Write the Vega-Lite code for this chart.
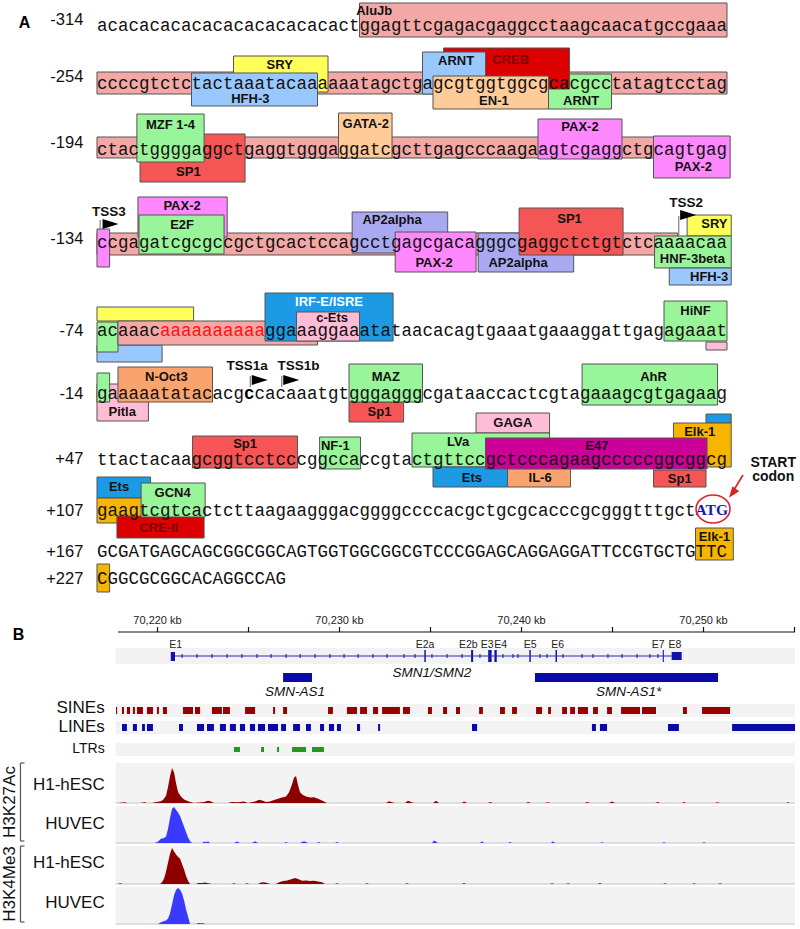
{
  "$schema": "https://vega.github.io/schema/vega-lite/v6.json",
  "width": 800,
  "height": 929,
  "padding": 0,
  "autosize": {"type": "none"},
  "background": "white",
  "config": {"view": {"stroke": null}, "axis": {"disable": true}, "legend": {"disable": true}},
  "datasets": {
    "boxes": [
      {"tf": "AluJb", "c1": 25, "c2": 60, "y1": 3, "y2": 37, "label": "AluJb", "lc": 26.4, "ly": 11},
      {"tf": "AluJb", "c1": 0, "c2": 60, "y1": 72, "y2": 94},
      {"tf": "SRY", "c1": 13, "c2": 22, "y1": 56, "y2": 92, "label": "SRY", "lc": 17.4, "ly": 65},
      {"tf": "HFH-3", "c1": 9, "c2": 21, "y1": 73, "y2": 106, "label": "HFH-3", "lc": 14.6, "ly": 99},
      {"tf": "ARNT b", "c1": 43, "c2": 49, "y1": 74, "y2": 109, "label": "ARNT", "lc": 46.1, "ly": 101},
      {"tf": "CREB", "c1": 33, "c2": 45, "y1": 48, "y2": 89, "label": "CREB", "lc": 39.4, "ly": 60},
      {"tf": "ARNT", "c1": 31, "c2": 37, "y1": 52, "y2": 94, "label": "ARNT", "lc": 34.2, "ly": 61},
      {"tf": "EN-1", "c1": 32, "c2": 43, "y1": 76, "y2": 109, "label": "EN-1", "lc": 37.8, "ly": 101},
      {"tf": "AluJb", "c1": 0, "c2": 60, "y1": 137, "y2": 158},
      {"tf": "SP1", "c1": 4.1, "c2": 14.1, "y1": 134, "y2": 182, "label": "SP1", "lc": 8.7, "ly": 172},
      {"tf": "MZF 1-4", "c1": 3.8, "c2": 10.2, "y1": 114, "y2": 162, "label": "MZF 1-4", "lc": 7, "ly": 125},
      {"tf": "GATA-2", "c1": 23, "c2": 28.1, "y1": 113, "y2": 158, "label": "GATA-2", "lc": 25.6, "ly": 124},
      {"tf": "PAX-2", "c1": 42, "c2": 50, "y1": 119, "y2": 159, "label": "PAX-2", "lc": 46, "ly": 127},
      {"tf": "PAX-2", "c1": 53, "c2": 60.3, "y1": 136, "y2": 178, "label": "PAX-2", "lc": 56.8, "ly": 167},
      {"tf": "AluJb", "c1": 0, "c2": 55.3, "y1": 233, "y2": 255},
      {"tf": "PAX-2", "c1": 0, "c2": 1.2, "y1": 229, "y2": 267},
      {"tf": "PAX-2", "c1": 3.9, "c2": 12.4, "y1": 197, "y2": 237, "label": "PAX-2", "lc": 8.1, "ly": 206},
      {"tf": "E2F", "c1": 4, "c2": 12.1, "y1": 215, "y2": 254, "label": "E2F", "lc": 8.1, "ly": 225},
      {"tf": "AP2alpha", "c1": 24.3, "c2": 33.4, "y1": 212, "y2": 253, "label": "AP2alpha", "lc": 28.1, "ly": 220},
      {"tf": "PAX-2", "c1": 28.4, "c2": 36.1, "y1": 232, "y2": 272, "label": "PAX-2", "lc": 32.1, "ly": 263},
      {"tf": "AP2alpha", "c1": 36.3, "c2": 45.4, "y1": 233, "y2": 272, "label": "AP2alpha", "lc": 40.1, "ly": 263},
      {"tf": "SP1", "c1": 40.2, "c2": 50.1, "y1": 208, "y2": 255, "label": "SP1", "lc": 45, "ly": 219},
      {"tf": "SRY", "c1": 56.2, "c2": 60.4, "y1": 215, "y2": 236, "label": "SRY", "lc": 58.8, "ly": 224},
      {"tf": "HNF-3beta", "c1": 53.1, "c2": 60.4, "y1": 236, "y2": 268, "label": "HNF-3beta", "lc": 56.7, "ly": 259},
      {"tf": "HFH-3", "c1": 54.5, "c2": 60.4, "y1": 268, "y2": 285, "label": "HFH-3", "lc": 58.3, "ly": 277},
      {"tf": "SRY", "c1": 0, "c2": 9.2, "y1": 307, "y2": 321},
      {"tf": "HFH-3", "c1": 0, "c2": 6.2, "y1": 345, "y2": 362},
      {"tf": "HNF-3beta", "c1": 0, "c2": 2, "y1": 322, "y2": 352},
      {"tf": "AluJb", "c1": 2, "c2": 21, "y1": 321, "y2": 345},
      {"tf": "IRF-E/ISRE", "c1": 16, "c2": 28.2, "y1": 293, "y2": 341, "label": "IRF-E/ISRE", "lc": 22.1, "ly": 302},
      {"tf": "c-Ets", "c1": 19, "c2": 25, "y1": 312, "y2": 341, "label": "c-Ets", "lc": 22.4, "ly": 318},
      {"tf": "HiNF", "c1": 54, "c2": 60, "y1": 301, "y2": 341, "label": "HiNF", "lc": 57, "ly": 311},
      {"tf": "Pitla", "c1": 58, "c2": 60, "y1": 342, "y2": 350},
      {"tf": "Pitla", "c1": 0, "c2": 4.9, "y1": 384, "y2": 421, "label": "Pitla", "lc": 2.4, "ly": 412},
      {"tf": "HiNF", "c1": 0, "c2": 1.2, "y1": 373, "y2": 402},
      {"tf": "N-Oct3", "c1": 2, "c2": 11, "y1": 367, "y2": 402, "label": "N-Oct3", "lc": 6.6, "ly": 377},
      {"tf": "Sp1", "c1": 24, "c2": 29.2, "y1": 402, "y2": 422, "label": "Sp1", "lc": 26.9, "ly": 412},
      {"tf": "MAZ", "c1": 24, "c2": 31, "y1": 364, "y2": 402, "label": "MAZ", "lc": 27.5, "ly": 377},
      {"tf": "AhR", "c1": 46.2, "c2": 59.1, "y1": 364, "y2": 405, "label": "AhR", "lc": 53, "ly": 377},
      {"tf": "GAGA", "c1": 36.1, "c2": 43.1, "y1": 413, "y2": 433, "label": "GAGA", "lc": 39.6, "ly": 423},
      {"tf": "Sp1", "c1": 9.1, "c2": 19.1, "y1": 436, "y2": 468, "label": "Sp1", "lc": 14.1, "ly": 444},
      {"tf": "NF-1", "c1": 21.2, "c2": 25.1, "y1": 437, "y2": 469, "label": "NF-1", "lc": 22.7, "ly": 446},
      {"tf": "LVa", "c1": 30, "c2": 43.1, "y1": 433, "y2": 467, "label": "LVa", "lc": 34.4, "ly": 442},
      {"tf": "Ets", "c1": 32, "c2": 39.1, "y1": 467, "y2": 487, "label": "Ets", "lc": 35.7, "ly": 478},
      {"tf": "IL-6", "c1": 39.1, "c2": 45.1, "y1": 467, "y2": 487, "label": "IL-6", "lc": 42.2, "ly": 478},
      {"tf": "Ets", "c1": 58, "c2": 60.4, "y1": 414, "y2": 423},
      {"tf": "Elk-1", "c1": 54.9, "c2": 60.4, "y1": 423, "y2": 467, "label": "Elk-1", "lc": 57.4, "ly": 432},
      {"tf": "Sp1", "c1": 53, "c2": 58, "y1": 470, "y2": 487, "label": "Sp1", "lc": 55.5, "ly": 479},
      {"tf": "E47", "c1": 37, "c2": 58.1, "y1": 438, "y2": 469, "label": "E47", "lc": 47.6, "ly": 446},
      {"tf": "Ets", "c1": 0, "c2": 5.1, "y1": 477, "y2": 498, "label": "Ets", "lc": 2.1, "ly": 487},
      {"tf": "Elk-1", "c1": 0, "c2": 5.1, "y1": 498, "y2": 523},
      {"tf": "CRE-II", "c1": 1.9, "c2": 10.2, "y1": 516, "y2": 538, "label": "CRE-II", "lc": 5.9, "ly": 528},
      {"tf": "GCN4", "c1": 4.2, "c2": 10.3, "y1": 483, "y2": 517, "label": "GCN4", "lc": 7.2, "ly": 493},
      {"tf": "Elk-1", "c1": 57, "c2": 60.6, "y1": 528, "y2": 560, "label": "Elk-1", "lc": 58.8, "ly": 537},
      {"tf": "Elk-1", "c1": 0, "c2": 1.2, "y1": 564, "y2": 592}
    ],
    "seq": [
      {"y": 26, "c": 0, "s": "acacacacacacacacacacacactggagttcgagacgaggcctaagcaacatgccgaaa", "k": "plain"},
      {"y": 84, "c": 0, "s": "ccccgtctctactaaatacaaaaaatagctgagcgtggtggcgcacgcctatagtcctag", "k": "plain"},
      {"y": 150, "c": 0, "s": "ctactggggaggctgaggtgggaggatcgcttgagcccaagaagtcgaggctgcagtgag", "k": "plain"},
      {"y": 243, "c": 0, "s": "ccgagatcgcgccgctgcactccagcctgagcgacagggcgaggctctgtctcaaaacaa", "k": "plain"},
      {"y": 331, "c": 0, "s": "acaaac", "k": "plain"},
      {"y": 331, "c": 6, "s": "aaaaaaaaaa", "k": "red"},
      {"y": 331, "c": 16, "s": "ggaaaggaaatataacacagtgaaatgaaaggattgagagaaat", "k": "plain"},
      {"y": 394, "c": 0, "s": "gaaaaatatacacg", "k": "plain"},
      {"y": 394, "c": 14, "s": "c", "k": "bold"},
      {"y": 394, "c": 15, "s": "cacaaatgtgggagggcgataaccactcgtagaaagcgtgagaag", "k": "plain"},
      {"y": 460, "c": 0, "s": "ttactacaagcggtcctcccggccaccgtactgttccgctcccagaagcccccggcggcg", "k": "plain"},
      {"y": 511, "c": 0, "s": "gaagtcgtcactcttaagaagggacggggccccacgctgcgcacccgcgggtttgct", "k": "plain"},
      {"y": 510, "c": 57, "s": "ATG", "k": "atg"},
      {"y": 552, "c": 0, "s": "GCGATGAGCAGCGGCGGCAGTGGTGGCGGCGTCCCGGAGCAGGAGGATTCCGTGCTGTTC", "k": "plain"},
      {"y": 579, "c": 0, "s": "CGGCGCGGCACAGGCCAG", "k": "plain"}
    ],
    "rows": [
      {"row": "-314", "c": -1.3, "ly": 20},
      {"row": "-254", "c": -1.3, "ly": 77},
      {"row": "-194", "c": -1.3, "ly": 143},
      {"row": "-134", "c": -1.3, "ly": 239},
      {"row": "-74", "c": -1.3, "ly": 331},
      {"row": "-14", "c": -1.3, "ly": 394},
      {"row": "+47", "c": -1.3, "ly": 459},
      {"row": "+107", "c": -1.3, "ly": 511},
      {"row": "+167", "c": -1.3, "ly": 552},
      {"row": "+227", "c": -1.3, "ly": 579}
    ],
    "tss": [
      {"name": "TSS3", "lc": 1.14, "ly": 212, "rc": 0.3, "ry1": 220, "ry2": 229, "tc": 1.29, "ty": 224},
      {"name": "TSS2", "lc": 56.1, "ly": 203, "rc": 55.4, "ry1": 216, "ry2": 236, "tc": 56.3, "ty": 215},
      {"name": "TSS1a", "lc": 14.3, "ly": 366, "rc": 14.6, "ry1": 376, "ry2": 387, "tc": 15.5, "ty": 380},
      {"name": "TSS1b", "lc": 19.2, "ly": 366, "rc": 17.6, "ry1": 376, "ry2": 387, "tc": 18.5, "ty": 380}
    ],
    "notes": [
      {"t": "A", "c": -6.9, "y": 23, "k": "panel"},
      {"t": "START", "c": 64.4, "y": 463, "k": "note"},
      {"t": "codon", "c": 64.4, "y": 477, "k": "note"}
    ],
    "brules": [
      {"k": "axis", "x1": 70217.83, "x2": 70255.03, "y1": 632, "y2": 632},
      {"k": "axis", "x1": 70220, "x2": 70220, "y1": 627, "y2": 632},
      {"k": "axis", "x1": 70225, "x2": 70225, "y1": 627, "y2": 632},
      {"k": "axis", "x1": 70230, "x2": 70230, "y1": 627, "y2": 632},
      {"k": "axis", "x1": 70235, "x2": 70235, "y1": 627, "y2": 632},
      {"k": "axis", "x1": 70240, "x2": 70240, "y1": 627, "y2": 632},
      {"k": "axis", "x1": 70245, "x2": 70245, "y1": 627, "y2": 632},
      {"k": "axis", "x1": 70250, "x2": 70250, "y1": 627, "y2": 632},
      {"k": "axis", "x1": 70255, "x2": 70255, "y1": 627, "y2": 632},
      {"k": "bracket", "x1": 70212.47, "x2": 70212.47, "y1": 763, "y2": 841},
      {"k": "bracket", "x1": 70212.47, "x2": 70212.69, "y1": 763, "y2": 763},
      {"k": "bracket", "x1": 70212.47, "x2": 70212.69, "y1": 841, "y2": 841},
      {"k": "bracket", "x1": 70212.47, "x2": 70212.47, "y1": 846, "y2": 922},
      {"k": "bracket", "x1": 70212.47, "x2": 70212.69, "y1": 846, "y2": 846},
      {"k": "bracket", "x1": 70212.47, "x2": 70212.69, "y1": 922, "y2": 922},
      {"k": "base", "x1": 70217.7, "x2": 70255.03, "y1": 803, "y2": 803},
      {"k": "base", "x1": 70217.7, "x2": 70255.03, "y1": 843, "y2": 843},
      {"k": "base", "x1": 70217.7, "x2": 70255.03, "y1": 884, "y2": 884},
      {"k": "base", "x1": 70217.7, "x2": 70255.03, "y1": 924, "y2": 924},
      {"k": "gene", "x1": 70220.96, "x2": 70248.25, "y1": 656, "y2": 656},
      {"k": "gene", "x1": 70221.35, "x2": 70221.35, "y1": 654, "y2": 658},
      {"k": "gene", "x1": 70222.17, "x2": 70222.17, "y1": 654, "y2": 658},
      {"k": "gene", "x1": 70222.99, "x2": 70222.99, "y1": 654, "y2": 658},
      {"k": "gene", "x1": 70223.82, "x2": 70223.82, "y1": 654, "y2": 658},
      {"k": "gene", "x1": 70224.64, "x2": 70224.64, "y1": 654, "y2": 658},
      {"k": "gene", "x1": 70225.47, "x2": 70225.47, "y1": 654, "y2": 658},
      {"k": "gene", "x1": 70226.24, "x2": 70226.24, "y1": 654, "y2": 658},
      {"k": "gene", "x1": 70227.06, "x2": 70227.06, "y1": 654, "y2": 658},
      {"k": "gene", "x1": 70227.84, "x2": 70227.84, "y1": 654, "y2": 658},
      {"k": "gene", "x1": 70228.65, "x2": 70228.65, "y1": 654, "y2": 658},
      {"k": "gene", "x1": 70229.48, "x2": 70229.48, "y1": 654, "y2": 658},
      {"k": "gene", "x1": 70230.25, "x2": 70230.25, "y1": 654, "y2": 658},
      {"k": "gene", "x1": 70231.02, "x2": 70231.02, "y1": 654, "y2": 658},
      {"k": "gene", "x1": 70231.84, "x2": 70231.84, "y1": 654, "y2": 658},
      {"k": "gene", "x1": 70232.61, "x2": 70232.61, "y1": 654, "y2": 658},
      {"k": "gene", "x1": 70233.54, "x2": 70233.54, "y1": 654, "y2": 658},
      {"k": "gene", "x1": 70234.15, "x2": 70234.15, "y1": 654, "y2": 658},
      {"k": "gene", "x1": 70235.08, "x2": 70235.08, "y1": 654, "y2": 658},
      {"k": "gene", "x1": 70235.91, "x2": 70235.91, "y1": 654, "y2": 658},
      {"k": "gene", "x1": 70236.73, "x2": 70236.73, "y1": 654, "y2": 658},
      {"k": "gene", "x1": 70237.72, "x2": 70237.72, "y1": 654, "y2": 658},
      {"k": "gene", "x1": 70238.98, "x2": 70238.98, "y1": 654, "y2": 658},
      {"k": "gene", "x1": 70239.53, "x2": 70239.53, "y1": 654, "y2": 658},
      {"k": "gene", "x1": 70239.81, "x2": 70239.81, "y1": 654, "y2": 658},
      {"k": "gene", "x1": 70241.02, "x2": 70241.02, "y1": 654, "y2": 658},
      {"k": "gene", "x1": 70241.40, "x2": 70241.40, "y1": 654, "y2": 658},
      {"k": "gene", "x1": 70242.28, "x2": 70242.28, "y1": 654, "y2": 658},
      {"k": "gene", "x1": 70243.32, "x2": 70243.32, "y1": 654, "y2": 658},
      {"k": "gene", "x1": 70243.93, "x2": 70243.93, "y1": 654, "y2": 658},
      {"k": "gene", "x1": 70244.75, "x2": 70244.75, "y1": 654, "y2": 658},
      {"k": "gene", "x1": 70245.52, "x2": 70245.52, "y1": 654, "y2": 658},
      {"k": "gene", "x1": 70246.35, "x2": 70246.35, "y1": 654, "y2": 658},
      {"k": "gene", "x1": 70247.06, "x2": 70247.06, "y1": 654, "y2": 658},
      {"k": "gene", "x1": 70247.50, "x2": 70247.50, "y1": 654, "y2": 658}
    ],
    "brects": [
      {"k": "band", "x1": 70217.7, "x2": 70255.03, "y1": 648, "y2": 664},
      {"k": "band", "x1": 70217.7, "x2": 70255.03, "y1": 704, "y2": 717},
      {"k": "band", "x1": 70217.7, "x2": 70255.03, "y1": 721, "y2": 734},
      {"k": "band", "x1": 70217.7, "x2": 70255.03, "y1": 743, "y2": 756},
      {"k": "band", "x1": 70217.7, "x2": 70255.03, "y1": 763, "y2": 803},
      {"k": "band", "x1": 70217.7, "x2": 70255.03, "y1": 806, "y2": 843},
      {"k": "band", "x1": 70217.7, "x2": 70255.03, "y1": 846, "y2": 884},
      {"k": "band", "x1": 70217.7, "x2": 70255.03, "y1": 887, "y2": 924},
      {"k": "exon", "x1": 70220.73, "x2": 70220.96, "y1": 652, "y2": 661},
      {"k": "exon", "x1": 70234.66, "x2": 70234.74, "y1": 650, "y2": 662},
      {"k": "exon", "x1": 70237.23, "x2": 70237.34, "y1": 650, "y2": 662},
      {"k": "exon", "x1": 70238.17, "x2": 70238.36, "y1": 650, "y2": 662},
      {"k": "exon", "x1": 70238.51, "x2": 70238.64, "y1": 650, "y2": 662},
      {"k": "exon", "x1": 70240.43, "x2": 70240.51, "y1": 650, "y2": 662},
      {"k": "exon", "x1": 70241.87, "x2": 70241.95, "y1": 650, "y2": 662},
      {"k": "exon", "x1": 70247.76, "x2": 70247.82, "y1": 650, "y2": 662},
      {"k": "exon", "x1": 70248.25, "x2": 70248.80, "y1": 652, "y2": 660},
      {"k": "as", "x1": 70226.90, "x2": 70228.49, "y1": 673, "y2": 682},
      {"k": "as", "x1": 70240.74, "x2": 70250.80, "y1": 673, "y2": 682}
    ],
    "tracklayout": [
      {"track": "SINEs", "top": 707, "bottom": 714},
      {"track": "LINEs", "top": 724, "bottom": 731},
      {"track": "LTRs", "top": 747, "bottom": 752}
    ],
    "repeats": [
      {"track": "SINEs", "s": 70217.72, "e": 70217.78}, {"track": "SINEs", "s": 70218.05, "e": 70218.16},
      {"track": "SINEs", "s": 70218.32, "e": 70218.49}, {"track": "SINEs", "s": 70218.65, "e": 70218.76},
      {"track": "SINEs", "s": 70218.87, "e": 70219.20}, {"track": "SINEs", "s": 70219.42, "e": 70219.75},
      {"track": "SINEs", "s": 70219.97, "e": 70220.08}, {"track": "SINEs", "s": 70220.30, "e": 70220.52},
      {"track": "SINEs", "s": 70221.40, "e": 70221.95}, {"track": "SINEs", "s": 70222.06, "e": 70222.34},
      {"track": "SINEs", "s": 70222.99, "e": 70223.54}, {"track": "SINEs", "s": 70223.60, "e": 70223.98},
      {"track": "SINEs", "s": 70224.81, "e": 70225.36}, {"track": "SINEs", "s": 70226.35, "e": 70226.46},
      {"track": "SINEs", "s": 70226.90, "e": 70227.12}, {"track": "SINEs", "s": 70229.37, "e": 70229.64},
      {"track": "SINEs", "s": 70230.41, "e": 70230.96}, {"track": "SINEs", "s": 70231.13, "e": 70231.51},
      {"track": "SINEs", "s": 70231.84, "e": 70232.12}, {"track": "SINEs", "s": 70232.34, "e": 70233.32},
      {"track": "SINEs", "s": 70233.49, "e": 70233.87}, {"track": "SINEs", "s": 70234.86, "e": 70235.08},
      {"track": "SINEs", "s": 70235.69, "e": 70235.91}, {"track": "SINEs", "s": 70236.40, "e": 70236.62},
      {"track": "SINEs", "s": 70237.67, "e": 70237.88}, {"track": "SINEs", "s": 70238.82, "e": 70239.09},
      {"track": "SINEs", "s": 70239.48, "e": 70239.75}, {"track": "SINEs", "s": 70240.80, "e": 70241.13},
      {"track": "SINEs", "s": 70241.46, "e": 70241.62}, {"track": "SINEs", "s": 70242.23, "e": 70242.50},
      {"track": "SINEs", "s": 70242.67, "e": 70242.94}, {"track": "SINEs", "s": 70243.10, "e": 70243.65},
      {"track": "SINEs", "s": 70243.93, "e": 70244.20}, {"track": "SINEs", "s": 70244.70, "e": 70244.97},
      {"track": "SINEs", "s": 70245.47, "e": 70246.51}, {"track": "SINEs", "s": 70246.62, "e": 70247.39},
      {"track": "SINEs", "s": 70248.87, "e": 70249.09}, {"track": "SINEs", "s": 70249.92, "e": 70251.46},
      {"track": "LINEs", "s": 70218.05, "e": 70218.32}, {"track": "LINEs", "s": 70218.65, "e": 70218.87},
      {"track": "LINEs", "s": 70219.15, "e": 70219.31}, {"track": "LINEs", "s": 70219.42, "e": 70219.75},
      {"track": "LINEs", "s": 70221.18, "e": 70221.40}, {"track": "LINEs", "s": 70222.17, "e": 70222.56},
      {"track": "LINEs", "s": 70222.72, "e": 70223.10}, {"track": "LINEs", "s": 70223.43, "e": 70223.76},
      {"track": "LINEs", "s": 70223.98, "e": 70224.31}, {"track": "LINEs", "s": 70224.53, "e": 70224.81},
      {"track": "LINEs", "s": 70225.08, "e": 70225.36}, {"track": "LINEs", "s": 70225.52, "e": 70225.91},
      {"track": "LINEs", "s": 70226.07, "e": 70226.62}, {"track": "LINEs", "s": 70226.79, "e": 70227.06},
      {"track": "LINEs", "s": 70227.45, "e": 70227.83}, {"track": "LINEs", "s": 70228.16, "e": 70228.43},
      {"track": "LINEs", "s": 70228.93, "e": 70229.15}, {"track": "LINEs", "s": 70229.42, "e": 70229.70},
      {"track": "LINEs", "s": 70229.86, "e": 70230.08}, {"track": "LINEs", "s": 70230.96, "e": 70231.13},
      {"track": "LINEs", "s": 70232.12, "e": 70232.23}, {"track": "LINEs", "s": 70237.28, "e": 70237.56},
      {"track": "LINEs", "s": 70243.87, "e": 70244.09}, {"track": "LINEs", "s": 70244.31, "e": 70244.70},
      {"track": "LINEs", "s": 70248.05, "e": 70248.65}, {"track": "LINEs", "s": 70251.57, "e": 70255.03},
      {"track": "LTRs", "s": 70224.20, "e": 70224.53}, {"track": "LTRs", "s": 70225.69, "e": 70225.85},
      {"track": "LTRs", "s": 70226.57, "e": 70226.68}, {"track": "LTRs", "s": 70227.39, "e": 70228.16},
      {"track": "LTRs", "s": 70228.49, "e": 70229.15}
    ],
    "btext": [
      {"k": "tick", "x": 70220, "y": 621, "t": "70,220 kb"},
      {"k": "tick", "x": 70230, "y": 621, "t": "70,230 kb"},
      {"k": "tick", "x": 70240, "y": 621, "t": "70,240 kb"},
      {"k": "tick", "x": 70250, "y": 621, "t": "70,250 kb"},
      {"k": "exon", "x": 70221.0, "y": 645, "t": "E1"},
      {"k": "exon", "x": 70234.70, "y": 645, "t": "E2a"},
      {"k": "exon", "x": 70237.08, "y": 645, "t": "E2b"},
      {"k": "exon", "x": 70238.12, "y": 645, "t": "E3"},
      {"k": "exon", "x": 70238.86, "y": 645, "t": "E4"},
      {"k": "exon", "x": 70240.47, "y": 645, "t": "E5"},
      {"k": "exon", "x": 70241.99, "y": 645, "t": "E6"},
      {"k": "exon", "x": 70247.51, "y": 645, "t": "E7"},
      {"k": "exon", "x": 70248.43, "y": 645, "t": "E8"},
      {"k": "gene", "x": 70227.55, "y": 692, "t": "SMN-AS1"},
      {"k": "gene", "x": 70245.88, "y": 692, "t": "SMN-AS1*"},
      {"k": "gene", "x": 70235.08, "y": 673, "t": "SMN1/SMN2"},
      {"k": "track", "x": 70217.1, "y": 708, "t": "SINEs"},
      {"k": "track", "x": 70217.1, "y": 727, "t": "LINEs"},
      {"k": "track2", "x": 70217.1, "y": 749, "t": "LTRs"},
      {"k": "track", "x": 70217.1, "y": 785, "t": "H1-hESC"},
      {"k": "track", "x": 70217.1, "y": 824, "t": "HUVEC"},
      {"k": "track", "x": 70217.1, "y": 863, "t": "H1-hESC"},
      {"k": "track", "x": 70217.1, "y": 903, "t": "HUVEC"},
      {"k": "group", "x": 70211.90, "y": 802, "t": "H3K27Ac"},
      {"k": "group", "x": 70211.90, "y": 884, "t": "H3K4Me3"},
      {"k": "panel", "x": 70212.36, "y": 635, "t": "B"}
    ],
    "signal": [
      {"t": "a", "x": 70217.83, "v": 0}, {"t": "a", "x": 70218.21, "v": 2}, {"t": "a", "x": 70218.32, "v": 0},
      {"t": "a", "x": 70219.04, "v": 0}, {"t": "a", "x": 70219.31, "v": 2}, {"t": "a", "x": 70219.42, "v": 0},
      {"t": "a", "x": 70219.70, "v": 0}, {"t": "a", "x": 70219.92, "v": 3}, {"t": "a", "x": 70220.14, "v": 4},
      {"t": "a", "x": 70220.30, "v": 8}, {"t": "a", "x": 70220.47, "v": 20}, {"t": "a", "x": 70220.58, "v": 45},
      {"t": "a", "x": 70220.69, "v": 75}, {"t": "a", "x": 70220.80, "v": 97}, {"t": "a", "x": 70220.91, "v": 85},
      {"t": "a", "x": 70221.02, "v": 55}, {"t": "a", "x": 70221.13, "v": 30}, {"t": "a", "x": 70221.29, "v": 18},
      {"t": "a", "x": 70221.46, "v": 10}, {"t": "a", "x": 70221.62, "v": 6}, {"t": "a", "x": 70221.79, "v": 3},
      {"t": "a", "x": 70222.01, "v": 0}, {"t": "a", "x": 70222.56, "v": 3}, {"t": "a", "x": 70222.78, "v": 6},
      {"t": "a", "x": 70222.94, "v": 4}, {"t": "a", "x": 70223.10, "v": 0}, {"t": "a", "x": 70223.87, "v": 0},
      {"t": "a", "x": 70224.09, "v": 3}, {"t": "a", "x": 70224.42, "v": 2}, {"t": "a", "x": 70224.75, "v": 4},
      {"t": "a", "x": 70224.97, "v": 0}, {"t": "a", "x": 70225.36, "v": 4}, {"t": "a", "x": 70225.58, "v": 9},
      {"t": "a", "x": 70225.80, "v": 6}, {"t": "a", "x": 70225.96, "v": 3}, {"t": "a", "x": 70226.18, "v": 4},
      {"t": "a", "x": 70226.40, "v": 8}, {"t": "a", "x": 70226.62, "v": 12}, {"t": "a", "x": 70226.84, "v": 15},
      {"t": "a", "x": 70227.06, "v": 18}, {"t": "a", "x": 70227.23, "v": 30}, {"t": "a", "x": 70227.39, "v": 52},
      {"t": "a", "x": 70227.50, "v": 70}, {"t": "a", "x": 70227.61, "v": 75}, {"t": "a", "x": 70227.72, "v": 50},
      {"t": "a", "x": 70227.83, "v": 30}, {"t": "a", "x": 70227.99, "v": 22}, {"t": "a", "x": 70228.16, "v": 18},
      {"t": "a", "x": 70228.38, "v": 15}, {"t": "a", "x": 70228.60, "v": 16}, {"t": "a", "x": 70228.82, "v": 12},
      {"t": "a", "x": 70228.98, "v": 8}, {"t": "a", "x": 70229.15, "v": 4}, {"t": "a", "x": 70229.31, "v": 0},
      {"t": "a", "x": 70232.56, "v": 0}, {"t": "a", "x": 70232.72, "v": 5}, {"t": "a", "x": 70232.88, "v": 2},
      {"t": "a", "x": 70233.05, "v": 0}, {"t": "a", "x": 70233.60, "v": 0}, {"t": "a", "x": 70233.76, "v": 6},
      {"t": "a", "x": 70233.93, "v": 3}, {"t": "a", "x": 70234.09, "v": 0}, {"t": "a", "x": 70235.14, "v": 0},
      {"t": "a", "x": 70235.30, "v": 6}, {"t": "a", "x": 70235.47, "v": 0}, {"t": "a", "x": 70236.73, "v": 0},
      {"t": "a", "x": 70236.84, "v": 4}, {"t": "a", "x": 70237.01, "v": 0}, {"t": "a", "x": 70238.16, "v": 0},
      {"t": "a", "x": 70238.27, "v": 3}, {"t": "a", "x": 70238.43, "v": 0}, {"t": "a", "x": 70240.25, "v": 0},
      {"t": "a", "x": 70240.36, "v": 3}, {"t": "a", "x": 70240.52, "v": 0}, {"t": "a", "x": 70241.29, "v": 0},
      {"t": "a", "x": 70241.46, "v": 2}, {"t": "a", "x": 70241.57, "v": 0}, {"t": "a", "x": 70243.49, "v": 0},
      {"t": "a", "x": 70243.60, "v": 3}, {"t": "a", "x": 70243.76, "v": 0}, {"t": "a", "x": 70244.81, "v": 0},
      {"t": "a", "x": 70244.97, "v": 4}, {"t": "a", "x": 70245.14, "v": 0}, {"t": "a", "x": 70247.34, "v": 0},
      {"t": "a", "x": 70247.50, "v": 3}, {"t": "a", "x": 70247.61, "v": 0}, {"t": "a", "x": 70248.82, "v": 0},
      {"t": "a", "x": 70248.93, "v": 3}, {"t": "a", "x": 70249.04, "v": 0}, {"t": "a", "x": 70250.63, "v": 0},
      {"t": "a", "x": 70250.74, "v": 2}, {"t": "a", "x": 70250.91, "v": 0}, {"t": "a", "x": 70254.53, "v": 0},
      {"t": "a", "x": 70254.64, "v": 2}, {"t": "a", "x": 70254.75, "v": 0}, {"t": "a", "x": 70255.03, "v": 0},

      {"t": "b", "x": 70217.83, "v": 0}, {"t": "b", "x": 70219.86, "v": 0}, {"t": "b", "x": 70220.03, "v": 4},
      {"t": "b", "x": 70220.19, "v": 12}, {"t": "b", "x": 70220.36, "v": 14}, {"t": "b", "x": 70220.47, "v": 18},
      {"t": "b", "x": 70220.58, "v": 40}, {"t": "b", "x": 70220.69, "v": 70}, {"t": "b", "x": 70220.80, "v": 95},
      {"t": "b", "x": 70220.91, "v": 100}, {"t": "b", "x": 70221.02, "v": 92}, {"t": "b", "x": 70221.13, "v": 85},
      {"t": "b", "x": 70221.24, "v": 75}, {"t": "b", "x": 70221.35, "v": 60}, {"t": "b", "x": 70221.46, "v": 45},
      {"t": "b", "x": 70221.57, "v": 30}, {"t": "b", "x": 70221.68, "v": 15}, {"t": "b", "x": 70221.79, "v": 5},
      {"t": "b", "x": 70221.90, "v": 0}, {"t": "b", "x": 70222.45, "v": 0}, {"t": "b", "x": 70222.56, "v": 4},
      {"t": "b", "x": 70222.67, "v": 2}, {"t": "b", "x": 70222.78, "v": 5}, {"t": "b", "x": 70222.88, "v": 0},
      {"t": "b", "x": 70224.20, "v": 0}, {"t": "b", "x": 70224.37, "v": 4}, {"t": "b", "x": 70224.53, "v": 0},
      {"t": "b", "x": 70225.19, "v": 0}, {"t": "b", "x": 70225.36, "v": 5}, {"t": "b", "x": 70225.52, "v": 0},
      {"t": "b", "x": 70226.95, "v": 0}, {"t": "b", "x": 70227.06, "v": 3}, {"t": "b", "x": 70227.17, "v": 0},
      {"t": "b", "x": 70227.83, "v": 0}, {"t": "b", "x": 70227.94, "v": 3}, {"t": "b", "x": 70228.05, "v": 5},
      {"t": "b", "x": 70228.16, "v": 3}, {"t": "b", "x": 70228.27, "v": 0}, {"t": "b", "x": 70228.76, "v": 0},
      {"t": "b", "x": 70228.87, "v": 3}, {"t": "b", "x": 70228.98, "v": 0}, {"t": "b", "x": 70229.75, "v": 0},
      {"t": "b", "x": 70229.86, "v": 3}, {"t": "b", "x": 70229.97, "v": 0}, {"t": "b", "x": 70235.08, "v": 0},
      {"t": "b", "x": 70235.19, "v": 7}, {"t": "b", "x": 70235.30, "v": 4}, {"t": "b", "x": 70235.41, "v": 0},
      {"t": "b", "x": 70237.72, "v": 0}, {"t": "b", "x": 70237.83, "v": 5}, {"t": "b", "x": 70237.94, "v": 0},
      {"t": "b", "x": 70239.26, "v": 0}, {"t": "b", "x": 70239.37, "v": 3}, {"t": "b", "x": 70239.48, "v": 0},
      {"t": "b", "x": 70241.62, "v": 0}, {"t": "b", "x": 70241.73, "v": 5}, {"t": "b", "x": 70241.84, "v": 0},
      {"t": "b", "x": 70244.31, "v": 0}, {"t": "b", "x": 70244.42, "v": 2}, {"t": "b", "x": 70244.53, "v": 0},
      {"t": "b", "x": 70247.72, "v": 0}, {"t": "b", "x": 70247.83, "v": 2}, {"t": "b", "x": 70247.94, "v": 0},
      {"t": "b", "x": 70249.92, "v": 0}, {"t": "b", "x": 70250.03, "v": 2}, {"t": "b", "x": 70250.14, "v": 0},
      {"t": "b", "x": 70255.03, "v": 0},

      {"t": "c", "x": 70217.83, "v": 0}, {"t": "c", "x": 70217.94, "v": 2}, {"t": "c", "x": 70218.10, "v": 0},
      {"t": "c", "x": 70220.14, "v": 0}, {"t": "c", "x": 70220.25, "v": 5}, {"t": "c", "x": 70220.36, "v": 15},
      {"t": "c", "x": 70220.47, "v": 35}, {"t": "c", "x": 70220.58, "v": 60}, {"t": "c", "x": 70220.69, "v": 85},
      {"t": "c", "x": 70220.80, "v": 100}, {"t": "c", "x": 70220.91, "v": 90}, {"t": "c", "x": 70221.02, "v": 82},
      {"t": "c", "x": 70221.13, "v": 75}, {"t": "c", "x": 70221.24, "v": 70}, {"t": "c", "x": 70221.35, "v": 55},
      {"t": "c", "x": 70221.46, "v": 40}, {"t": "c", "x": 70221.57, "v": 22}, {"t": "c", "x": 70221.68, "v": 8},
      {"t": "c", "x": 70221.79, "v": 0}, {"t": "c", "x": 70222.12, "v": 0}, {"t": "c", "x": 70222.23, "v": 3},
      {"t": "c", "x": 70222.45, "v": 3}, {"t": "c", "x": 70222.61, "v": 4}, {"t": "c", "x": 70222.78, "v": 2},
      {"t": "c", "x": 70222.99, "v": 0}, {"t": "c", "x": 70224.09, "v": 0}, {"t": "c", "x": 70224.20, "v": 2},
      {"t": "c", "x": 70224.31, "v": 0}, {"t": "c", "x": 70224.81, "v": 0}, {"t": "c", "x": 70224.92, "v": 2},
      {"t": "c", "x": 70225.03, "v": 0}, {"t": "c", "x": 70225.52, "v": 0}, {"t": "c", "x": 70225.69, "v": 4},
      {"t": "c", "x": 70225.85, "v": 5}, {"t": "c", "x": 70226.02, "v": 3}, {"t": "c", "x": 70226.18, "v": 0},
      {"t": "c", "x": 70226.51, "v": 0}, {"t": "c", "x": 70226.68, "v": 5}, {"t": "c", "x": 70226.90, "v": 8},
      {"t": "c", "x": 70227.12, "v": 10}, {"t": "c", "x": 70227.34, "v": 13}, {"t": "c", "x": 70227.56, "v": 17},
      {"t": "c", "x": 70227.72, "v": 14}, {"t": "c", "x": 70227.94, "v": 9}, {"t": "c", "x": 70228.16, "v": 10},
      {"t": "c", "x": 70228.38, "v": 8}, {"t": "c", "x": 70228.60, "v": 9}, {"t": "c", "x": 70228.82, "v": 7},
      {"t": "c", "x": 70229.04, "v": 5}, {"t": "c", "x": 70229.20, "v": 0}, {"t": "c", "x": 70229.75, "v": 0},
      {"t": "c", "x": 70229.86, "v": 2}, {"t": "c", "x": 70229.97, "v": 0}, {"t": "c", "x": 70231.40, "v": 0},
      {"t": "c", "x": 70231.51, "v": 2}, {"t": "c", "x": 70231.62, "v": 0}, {"t": "c", "x": 70233.60, "v": 0},
      {"t": "c", "x": 70233.71, "v": 2}, {"t": "c", "x": 70233.82, "v": 0}, {"t": "c", "x": 70236.73, "v": 0},
      {"t": "c", "x": 70236.84, "v": 3}, {"t": "c", "x": 70236.95, "v": 0}, {"t": "c", "x": 70241.57, "v": 0},
      {"t": "c", "x": 70241.68, "v": 2}, {"t": "c", "x": 70241.79, "v": 0}, {"t": "c", "x": 70242.45, "v": 0},
      {"t": "c", "x": 70242.56, "v": 2}, {"t": "c", "x": 70242.67, "v": 0}, {"t": "c", "x": 70244.20, "v": 0},
      {"t": "c", "x": 70244.31, "v": 3}, {"t": "c", "x": 70244.42, "v": 0}, {"t": "c", "x": 70247.78, "v": 0},
      {"t": "c", "x": 70247.88, "v": 2}, {"t": "c", "x": 70247.99, "v": 0}, {"t": "c", "x": 70249.37, "v": 0},
      {"t": "c", "x": 70249.48, "v": 2}, {"t": "c", "x": 70249.59, "v": 0}, {"t": "c", "x": 70250.80, "v": 0},
      {"t": "c", "x": 70250.91, "v": 2}, {"t": "c", "x": 70251.02, "v": 0}, {"t": "c", "x": 70255.03, "v": 0},

      {"t": "d", "x": 70217.83, "v": 0}, {"t": "d", "x": 70220.03, "v": 0}, {"t": "d", "x": 70220.19, "v": 5},
      {"t": "d", "x": 70220.36, "v": 8}, {"t": "d", "x": 70220.47, "v": 10}, {"t": "d", "x": 70220.58, "v": 15},
      {"t": "d", "x": 70220.69, "v": 30}, {"t": "d", "x": 70220.80, "v": 55}, {"t": "d", "x": 70220.91, "v": 80},
      {"t": "d", "x": 70221.02, "v": 95}, {"t": "d", "x": 70221.13, "v": 100}, {"t": "d", "x": 70221.24, "v": 95},
      {"t": "d", "x": 70221.35, "v": 85}, {"t": "d", "x": 70221.46, "v": 65}, {"t": "d", "x": 70221.57, "v": 40},
      {"t": "d", "x": 70221.68, "v": 20}, {"t": "d", "x": 70221.79, "v": 0}, {"t": "d", "x": 70222.12, "v": 0},
      {"t": "d", "x": 70222.23, "v": 3}, {"t": "d", "x": 70222.39, "v": 2}, {"t": "d", "x": 70222.50, "v": 3},
      {"t": "d", "x": 70222.61, "v": 0}, {"t": "d", "x": 70255.03, "v": 0}
    ]
  },
  "layer": [
    {
      "layer": [
        {
          "data": {"name": "boxes"},
          "mark": {"type": "rect", "stroke": "#555555", "strokeWidth": 1},
          "encoding": {
            "x": {"field": "c1", "type": "quantitative", "scale": {"domain": [-9.238, 66.952], "nice": false, "zero": false}},
            "x2": {"field": "c2"},
            "y": {"field": "y1", "type": "quantitative", "scale": {"domain": [0, 929], "reverse": true, "nice": false, "zero": false}},
            "y2": {"field": "y2"},
            "fill": {"field": "tf", "type": "nominal", "legend": null, "scale": {
              "domain": ["AluJb","SRY","HFH-3","ARNT","CREB","EN-1","ARNT b","MZF 1-4","SP1","GATA-2","PAX-2","E2F","AP2alpha","HNF-3beta","IRF-E/ISRE","c-Ets","HiNF","Pitla","N-Oct3","MAZ","Sp1","AhR","NF-1","LVa","GAGA","E47","Ets","IL-6","Elk-1","GCN4","CRE-II"],
              "range": ["#f4a8a6","#ffff5a","#99c8ff","#99c8ff","#dd0000","#ffcb99","#99f599","#99f599","#f55555","#ffcb99","#ff88ff","#99f599","#a9a9f2","#99f599","#1c9ae4","#ffbcd6","#99f599","#ffbcd6","#f9a46e","#99f599","#f55555","#99f599","#99f599","#99f599","#ffbcd6","#cc0099","#1c9ae4","#f9a46e","#f7b500","#99f599","#dd0000"]}}
          }
        },
        {
          "data": {"name": "seq"},
          "transform": [{"filter": "datum.k === 'plain' || datum.k === 'red'"}],
          "mark": {"type": "text", "font": "Liberation Mono", "fontSize": 17.5, "align": "left", "baseline": "middle"},
          "encoding": {
            "x": {"field": "c", "type": "quantitative", "scale": {"domain": [-9.238, 66.952], "nice": false, "zero": false}},
            "y": {"field": "y", "type": "quantitative", "scale": {"domain": [0, 929], "reverse": true, "nice": false, "zero": false}},
            "text": {"field": "s"},
            "color": {"condition": {"test": "datum.k === 'red'", "value": "#ff1010"}, "value": "#111111"}
          }
        },
        {
          "data": {"name": "seq"},
          "transform": [{"filter": "datum.k === 'bold'"}],
          "mark": {"type": "text", "font": "Liberation Mono", "fontSize": 17.5, "fontWeight": "bold", "align": "left", "baseline": "middle", "color": "#000000"},
          "encoding": {
            "x": {"field": "c", "type": "quantitative", "scale": {"domain": [-9.238, 66.952], "nice": false, "zero": false}},
            "y": {"field": "y", "type": "quantitative", "scale": {"domain": [0, 929], "reverse": true, "nice": false, "zero": false}},
            "text": {"field": "s"}
          }
        },
        {
          "data": {"name": "seq"},
          "transform": [{"filter": "datum.k === 'atg'"}],
          "mark": {"type": "text", "font": "Liberation Serif", "fontSize": 15.5, "fontWeight": "bold", "align": "left", "baseline": "middle", "color": "#1a1aa8"},
          "encoding": {
            "x": {"field": "c", "type": "quantitative", "scale": {"domain": [-9.238, 66.952], "nice": false, "zero": false}},
            "y": {"field": "y", "type": "quantitative", "scale": {"domain": [0, 929], "reverse": true, "nice": false, "zero": false}},
            "text": {"field": "s"}
          }
        },
        {
          "data": {"name": "rows"},
          "mark": {"type": "text", "font": "Liberation Sans", "fontSize": 16.5, "align": "right", "baseline": "middle", "color": "#111111"},
          "encoding": {
            "x": {"field": "c", "type": "quantitative", "scale": {"domain": [-9.238, 66.952], "nice": false, "zero": false}},
            "y": {"field": "ly", "type": "quantitative", "scale": {"domain": [0, 929], "reverse": true, "nice": false, "zero": false}},
            "text": {"field": "row"}
          }
        },
        {
          "data": {"name": "boxes"},
          "transform": [{"filter": "datum.label"}],
          "mark": {"type": "text", "font": "Liberation Sans", "fontSize": 13, "fontWeight": "bold", "align": "center", "baseline": "middle"},
          "encoding": {
            "x": {"field": "lc", "type": "quantitative", "scale": {"domain": [-9.238, 66.952], "nice": false, "zero": false}},
            "y": {"field": "ly", "type": "quantitative", "scale": {"domain": [0, 929], "reverse": true, "nice": false, "zero": false}},
            "text": {"field": "label"},
            "color": {"condition": [{"test": "datum.tf === 'IRF-E/ISRE'", "value": "#ffffff"}, {"test": "datum.tf === 'CREB' || datum.tf === 'CRE-II'", "value": "#7a0000"}], "value": "#111111"}
          }
        },
        {
          "data": {"name": "tss"},
          "mark": {"type": "rule", "color": "#888888", "strokeWidth": 1.3},
          "encoding": {
            "x": {"field": "rc", "type": "quantitative", "scale": {"domain": [-9.238, 66.952], "nice": false, "zero": false}},
            "y": {"field": "ry1", "type": "quantitative", "scale": {"domain": [0, 929], "reverse": true, "nice": false, "zero": false}},
            "y2": {"field": "ry2"}
          }
        },
        {
          "data": {"name": "tss"},
          "mark": {"type": "point", "shape": "M-1,-0.62L1,0L-1,0.62Z", "filled": true, "opacity": 1, "size": 256, "color": "#000000"},
          "encoding": {
            "x": {"field": "tc", "type": "quantitative", "scale": {"domain": [-9.238, 66.952], "nice": false, "zero": false}},
            "y": {"field": "ty", "type": "quantitative", "scale": {"domain": [0, 929], "reverse": true, "nice": false, "zero": false}}
          }
        },
        {
          "data": {"name": "tss"},
          "mark": {"type": "text", "font": "Liberation Sans", "fontSize": 13.5, "fontWeight": "bold", "align": "center", "baseline": "middle", "color": "#111111"},
          "encoding": {
            "x": {"field": "lc", "type": "quantitative", "scale": {"domain": [-9.238, 66.952], "nice": false, "zero": false}},
            "y": {"field": "ly", "type": "quantitative", "scale": {"domain": [0, 929], "reverse": true, "nice": false, "zero": false}},
            "text": {"field": "name"}
          }
        },
        {
          "data": {"name": "notes"},
          "transform": [{"filter": "datum.k === 'panel'"}],
          "mark": {"type": "text", "font": "Liberation Sans", "fontSize": 16, "fontWeight": "bold", "align": "center", "baseline": "middle", "color": "#000000"},
          "encoding": {
            "x": {"field": "c", "type": "quantitative", "scale": {"domain": [-9.238, 66.952], "nice": false, "zero": false}},
            "y": {"field": "y", "type": "quantitative", "scale": {"domain": [0, 929], "reverse": true, "nice": false, "zero": false}},
            "text": {"field": "t"}
          }
        },
        {
          "data": {"name": "notes"},
          "transform": [{"filter": "datum.k === 'note'"}],
          "mark": {"type": "text", "font": "Liberation Sans", "fontSize": 14, "fontWeight": "bold", "align": "center", "baseline": "middle", "color": "#111111"},
          "encoding": {
            "x": {"field": "c", "type": "quantitative", "scale": {"domain": [-9.238, 66.952], "nice": false, "zero": false}},
            "y": {"field": "y", "type": "quantitative", "scale": {"domain": [0, 929], "reverse": true, "nice": false, "zero": false}},
            "text": {"field": "t"}
          }
        },
        {
          "data": {"values": [{"c": 58.67, "y": 509}]},
          "mark": {"type": "point", "shape": "M-1,0A1,0.82,0,1,1,1,0A1,0.82,0,1,1,-1,0Z", "filled": false, "opacity": 1, "size": 1156, "color": "#e02020", "strokeWidth": 1.6},
          "encoding": {
            "x": {"field": "c", "type": "quantitative", "scale": {"domain": [-9.238, 66.952], "nice": false, "zero": false}},
            "y": {"field": "y", "type": "quantitative", "scale": {"domain": [0, 929], "reverse": true, "nice": false, "zero": false}}
          }
        },
        {
          "data": {"values": [{"c1": 61.52, "y1": 475, "c2": 60.6, "y2": 491}]},
          "mark": {"type": "rule", "color": "#e02020", "strokeWidth": 1.6},
          "encoding": {
            "x": {"field": "c1", "type": "quantitative", "scale": {"domain": [-9.238, 66.952], "nice": false, "zero": false}},
            "x2": {"field": "c2"},
            "y": {"field": "y1", "type": "quantitative", "scale": {"domain": [0, 929], "reverse": true, "nice": false, "zero": false}},
            "y2": {"field": "y2"}
          }
        },
        {
          "data": {"values": [{"c": 60.53, "y": 493}]},
          "mark": {"type": "point", "shape": "M0,-1L0.7,0.9L-0.7,0.9Z", "filled": true, "opacity": 1, "size": 144, "color": "#e02020", "angle": 217},
          "encoding": {
            "x": {"field": "c", "type": "quantitative", "scale": {"domain": [-9.238, 66.952], "nice": false, "zero": false}},
            "y": {"field": "y", "type": "quantitative", "scale": {"domain": [0, 929], "reverse": true, "nice": false, "zero": false}}
          }
        }
      ]
    },
    {
      "resolve": {"scale": {"color": "independent"}},
      "layer": [
        {
          "data": {"name": "brects"},
          "mark": {"type": "rect"},
          "encoding": {
            "x": {"field": "x1", "type": "quantitative", "scale": {"domain": [70211.346, 70255.302], "nice": false, "zero": false}},
            "x2": {"field": "x2"},
            "y": {"field": "y1", "type": "quantitative", "scale": {"domain": [0, 929], "reverse": true, "nice": false, "zero": false}},
            "y2": {"field": "y2"},
            "color": {"field": "k", "type": "nominal", "legend": null, "scale": {"domain": ["band", "exon", "as"], "range": ["#f3f3f3", "#1212a8", "#0a0aa8"]}}
          }
        },
        {
          "data": {"name": "brules"},
          "mark": {"type": "rule", "strokeWidth": 1.2},
          "encoding": {
            "x": {"field": "x1", "type": "quantitative", "scale": {"domain": [70211.346, 70255.302], "nice": false, "zero": false}},
            "x2": {"field": "x2"},
            "y": {"field": "y1", "type": "quantitative", "scale": {"domain": [0, 929], "reverse": true, "nice": false, "zero": false}},
            "y2": {"field": "y2"},
            "color": {"field": "k", "type": "nominal", "legend": null, "scale": {"domain": ["axis", "bracket", "base", "gene"], "range": ["#111111", "#555555", "#c4c4c4", "#2a2ab8"]}}
          }
        },
        {
          "data": {"name": "repeats"},
          "transform": [{"lookup": "track", "from": {"data": {"name": "tracklayout"}, "key": "track", "fields": ["top", "bottom"]}}],
          "mark": {"type": "rect"},
          "encoding": {
            "x": {"field": "s", "type": "quantitative", "scale": {"domain": [70211.346, 70255.302], "nice": false, "zero": false}},
            "x2": {"field": "e"},
            "y": {"field": "top", "type": "quantitative", "scale": {"domain": [0, 929], "reverse": true, "nice": false, "zero": false}},
            "y2": {"field": "bottom"},
            "color": {"field": "track", "type": "nominal", "legend": null, "scale": {"domain": ["SINEs", "LINEs", "LTRs"], "range": ["#990000", "#0a0aa5", "#1e9a1e"]}}
          }
        },
        {
          "data": {"name": "btext"},
          "transform": [{"filter": "datum.k === 'tick'"}],
          "mark": {"type": "text", "font": "Liberation Sans", "fontSize": 11, "align": "center", "baseline": "middle", "color": "#222222"},
          "encoding": {
            "x": {"field": "x", "type": "quantitative", "scale": {"domain": [70211.346, 70255.302], "nice": false, "zero": false}},
            "y": {"field": "y", "type": "quantitative", "scale": {"domain": [0, 929], "reverse": true, "nice": false, "zero": false}},
            "text": {"field": "t"}
          }
        },
        {
          "data": {"name": "btext"},
          "transform": [{"filter": "datum.k === 'exon'"}],
          "mark": {"type": "text", "font": "Liberation Sans", "fontSize": 10.5, "align": "center", "baseline": "middle", "color": "#222222"},
          "encoding": {
            "x": {"field": "x", "type": "quantitative", "scale": {"domain": [70211.346, 70255.302], "nice": false, "zero": false}},
            "y": {"field": "y", "type": "quantitative", "scale": {"domain": [0, 929], "reverse": true, "nice": false, "zero": false}},
            "text": {"field": "t"}
          }
        },
        {
          "data": {"name": "btext"},
          "transform": [{"filter": "datum.k === 'gene'"}],
          "mark": {"type": "text", "font": "Liberation Sans", "fontSize": 13.5, "fontStyle": "italic", "align": "center", "baseline": "middle", "color": "#111111"},
          "encoding": {
            "x": {"field": "x", "type": "quantitative", "scale": {"domain": [70211.346, 70255.302], "nice": false, "zero": false}},
            "y": {"field": "y", "type": "quantitative", "scale": {"domain": [0, 929], "reverse": true, "nice": false, "zero": false}},
            "text": {"field": "t"}
          }
        },
        {
          "data": {"name": "btext"},
          "transform": [{"filter": "datum.k === 'track'"}],
          "mark": {"type": "text", "font": "Liberation Sans", "fontSize": 17, "align": "right", "baseline": "middle", "color": "#111111"},
          "encoding": {
            "x": {"field": "x", "type": "quantitative", "scale": {"domain": [70211.346, 70255.302], "nice": false, "zero": false}},
            "y": {"field": "y", "type": "quantitative", "scale": {"domain": [0, 929], "reverse": true, "nice": false, "zero": false}},
            "text": {"field": "t"}
          }
        },
        {
          "data": {"name": "btext"},
          "transform": [{"filter": "datum.k === 'track2'"}],
          "mark": {"type": "text", "font": "Liberation Sans", "fontSize": 14, "align": "right", "baseline": "middle", "color": "#111111"},
          "encoding": {
            "x": {"field": "x", "type": "quantitative", "scale": {"domain": [70211.346, 70255.302], "nice": false, "zero": false}},
            "y": {"field": "y", "type": "quantitative", "scale": {"domain": [0, 929], "reverse": true, "nice": false, "zero": false}},
            "text": {"field": "t"}
          }
        },
        {
          "data": {"name": "btext"},
          "transform": [{"filter": "datum.k === 'group'"}],
          "mark": {"type": "text", "font": "Liberation Sans", "fontSize": 17, "align": "center", "baseline": "middle", "angle": 270, "color": "#111111"},
          "encoding": {
            "x": {"field": "x", "type": "quantitative", "scale": {"domain": [70211.346, 70255.302], "nice": false, "zero": false}},
            "y": {"field": "y", "type": "quantitative", "scale": {"domain": [0, 929], "reverse": true, "nice": false, "zero": false}},
            "text": {"field": "t"}
          }
        },
        {
          "data": {"name": "btext"},
          "transform": [{"filter": "datum.k === 'panel'"}],
          "mark": {"type": "text", "font": "Liberation Sans", "fontSize": 16, "fontWeight": "bold", "align": "center", "baseline": "middle", "color": "#000000"},
          "encoding": {
            "x": {"field": "x", "type": "quantitative", "scale": {"domain": [70211.346, 70255.302], "nice": false, "zero": false}},
            "y": {"field": "y", "type": "quantitative", "scale": {"domain": [0, 929], "reverse": true, "nice": false, "zero": false}},
            "text": {"field": "t"}
          }
        }
      ]
    },
    {
      "data": {"name": "signal"},
      "transform": [{"filter": "datum.t === 'a'"}],
      "mark": {"type": "area", "color": "#8e0000", "interpolate": "linear"},
      "encoding": {
        "x": {"field": "x", "type": "quantitative", "scale": {"domain": [70211.346, 70255.302], "nice": false, "zero": false}},
        "y": {"field": "v", "type": "quantitative", "scale": {"domain": [0, 100], "range": [803, 767], "nice": false}}
      }
    },
    {
      "data": {"name": "signal"},
      "transform": [{"filter": "datum.t === 'b'"}],
      "mark": {"type": "area", "color": "#3a3aff", "interpolate": "linear"},
      "encoding": {
        "x": {"field": "x", "type": "quantitative", "scale": {"domain": [70211.346, 70255.302], "nice": false, "zero": false}},
        "y": {"field": "v", "type": "quantitative", "scale": {"domain": [0, 100], "range": [843, 807], "nice": false}}
      }
    },
    {
      "data": {"name": "signal"},
      "transform": [{"filter": "datum.t === 'c'"}],
      "mark": {"type": "area", "color": "#8e0000", "interpolate": "linear"},
      "encoding": {
        "x": {"field": "x", "type": "quantitative", "scale": {"domain": [70211.346, 70255.302], "nice": false, "zero": false}},
        "y": {"field": "v", "type": "quantitative", "scale": {"domain": [0, 100], "range": [884, 848], "nice": false}}
      }
    },
    {
      "data": {"name": "signal"},
      "transform": [{"filter": "datum.t === 'd'"}],
      "mark": {"type": "area", "color": "#3a3aff", "interpolate": "linear"},
      "encoding": {
        "x": {"field": "x", "type": "quantitative", "scale": {"domain": [70211.346, 70255.302], "nice": false, "zero": false}},
        "y": {"field": "v", "type": "quantitative", "scale": {"domain": [0, 100], "range": [924, 888], "nice": false}}
      }
    }
  ],
  "resolve": {"scale": {"x": "independent", "y": "independent"}}
}
